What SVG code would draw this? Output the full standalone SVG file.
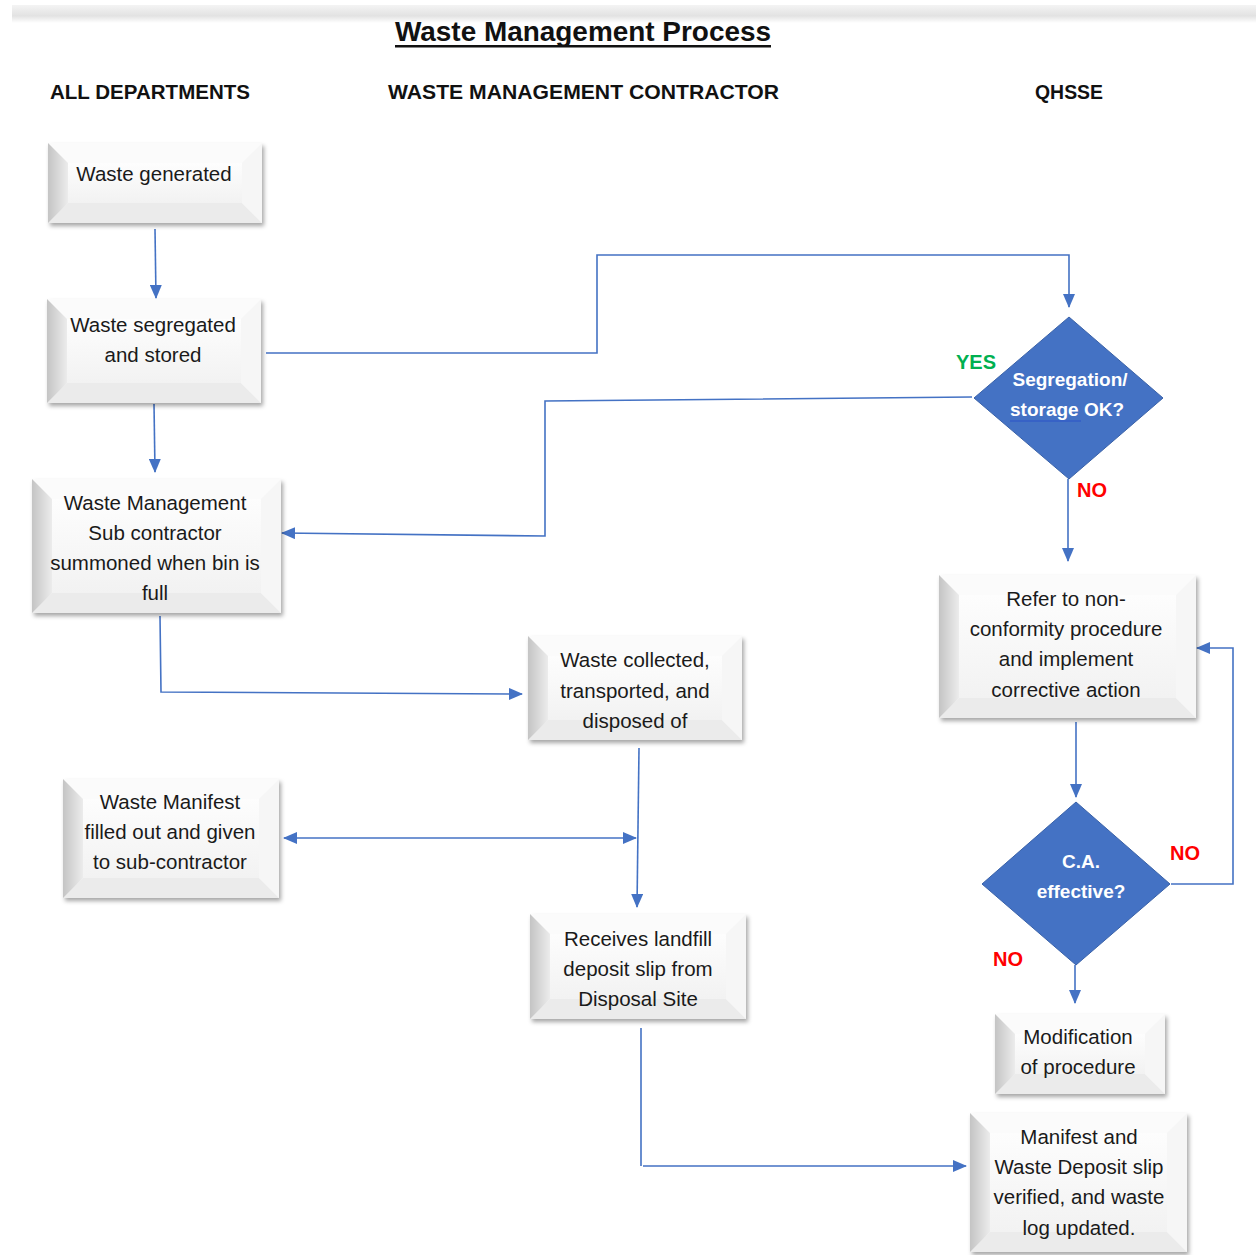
<svg xmlns="http://www.w3.org/2000/svg" width="1256" height="1255" viewBox="0 0 1256 1255">
<defs>
<style>
.t{font-family:"Liberation Sans",Arial,sans-serif;font-size:20.5px;fill:#1a1a1a;text-anchor:middle}
.h{font-family:"Liberation Sans",Arial,sans-serif;font-size:20px;font-weight:bold;fill:#111}
.dt{font-family:"Liberation Sans",Arial,sans-serif;font-size:19px;font-weight:bold;fill:#fff;text-anchor:middle}
.no{font-family:"Liberation Sans",Arial,sans-serif;font-size:20px;font-weight:bold;fill:#ff0000}
.yes{font-family:"Liberation Sans",Arial,sans-serif;font-size:20px;font-weight:bold;fill:#00b050}
.c{fill:none;stroke:#4472c4;stroke-width:1.6}
.face{fill:url(#gFace)}
.bl{fill:url(#gLeft)}
.bt{fill:#fbfbfb}
.bb{fill:#ebebeb}
.br{fill:#f6f6f6}
.dia{fill:#4472c4;stroke:#3a62a8;stroke-width:1}
</style>
<linearGradient id="gFace" x1="0" y1="0" x2="0" y2="1">
<stop offset="0" stop-color="#fdfdfd"/><stop offset="1" stop-color="#f2f2f2"/>
</linearGradient>
<linearGradient id="gLeft" x1="0" y1="0" x2="1" y2="0">
<stop offset="0" stop-color="#c4c4c4"/><stop offset="1" stop-color="#ececec"/>
</linearGradient>
<linearGradient id="gBand" x1="0" y1="0" x2="0" y2="1">
<stop offset="0" stop-color="#f4f4f4"/><stop offset="0.6" stop-color="#e2e2e2"/><stop offset="1" stop-color="#ffffff"/>
</linearGradient>
<filter id="sh" x="-10%" y="-10%" width="125%" height="130%">
<feDropShadow dx="2" dy="3" stdDeviation="2" flood-color="#000" flood-opacity="0.35"/>
</filter>
<marker id="ah" markerUnits="userSpaceOnUse" markerWidth="14" markerHeight="12" refX="13" refY="6" orient="auto-start-reverse">
<path d="M0,0 L14,6 L0,12 Z" fill="#4472c4"/>
</marker>
</defs>
<rect x="0" y="0" width="1256" height="1255" fill="#fff"/>
<rect x="12" y="5" width="1244" height="18" fill="url(#gBand)"/>

<g id="title">
<text x="583" y="41" font-family="'Liberation Sans',Arial,sans-serif" font-size="28" font-weight="bold" fill="#111" text-anchor="middle" textLength="376" lengthAdjust="spacingAndGlyphs">Waste Management Process</text>
<rect x="395" y="45" width="376" height="2.5" fill="#111"/>
</g>
<g id="lanes">
<text class="h" x="50" y="99" textLength="200" lengthAdjust="spacingAndGlyphs">ALL DEPARTMENTS</text>
<text class="h" x="388" y="99" textLength="391" lengthAdjust="spacingAndGlyphs">WASTE MANAGEMENT CONTRACTOR</text>
<text class="h" x="1035" y="99" textLength="68" lengthAdjust="spacingAndGlyphs">QHSSE</text>
</g>

<g id="connectors">
<path class="c" d="M155,229 L156,298" marker-end="url(#ah)"/>
<path class="c" d="M154,404 L155,472" marker-end="url(#ah)"/>
<path class="c" d="M266,353 L597,353 L597,255 L1069,255 L1069,307" marker-end="url(#ah)"/>
<path class="c" d="M972,397 L545,401 L545,536 L282,533" marker-end="url(#ah)"/>
<path class="c" d="M1068,479 L1068,561" marker-end="url(#ah)"/>
<path class="c" d="M160,616 L161,692 L522,694" marker-end="url(#ah)"/>
<path class="c" d="M639,748 L637,907" marker-end="url(#ah)"/>
<path class="c" d="M284,838 L636,838" marker-start="url(#ah)" marker-end="url(#ah)"/>
<path class="c" d="M641,1028 L641,1166 M643,1166 L966,1166" marker-end="url(#ah)"/>
<path class="c" d="M1076,722 L1076,797" marker-end="url(#ah)"/>
<path class="c" d="M1171,884 L1233,884 L1233,648 L1197,648" marker-end="url(#ah)"/>
<path class="c" d="M1075,965 L1075,1003" marker-end="url(#ah)"/>
</g>

<g id="labels">
<text class="yes" x="956" y="369">YES</text>
<text class="no" x="1077" y="497">NO</text>
<text class="no" x="1170" y="860">NO</text>
<text class="no" x="993" y="966">NO</text>
</g>

<g id="n1" filter="url(#sh)">
<rect class="face" x="48" y="143" width="214" height="80"/>
<polygon class="bt" points="48,143 262,143 242,163 68,163"/>
<polygon class="bb" points="48,223 262,223 242,203 68,203"/>
<polygon class="br" points="262,143 262,223 242,203 242,163"/>
<polygon class="bl" points="48,143 68,163 68,203 48,223"/>
<rect class="face" x="68" y="163" width="174" height="40"/>
</g>
<text class="t" x="154" y="181">Waste generated</text>

<g id="n2" filter="url(#sh)">
<rect class="face" x="47" y="299" width="214" height="104"/>
<polygon class="bt" points="47,299 261,299 241,319 67,319"/>
<polygon class="bb" points="47,403 261,403 241,383 67,383"/>
<polygon class="br" points="261,299 261,403 241,383 241,319"/>
<polygon class="bl" points="47,299 67,319 67,383 47,403"/>
<rect class="face" x="67" y="319" width="174" height="64"/>
</g>
<text class="t" x="153" y="332">Waste segregated</text>
<text class="t" x="153" y="362">and stored</text>

<g id="n3" filter="url(#sh)">
<rect class="face" x="32" y="479" width="249" height="134"/>
<polygon class="bt" points="32,479 281,479 261,499 52,499"/>
<polygon class="bb" points="32,613 281,613 261,593 52,593"/>
<polygon class="br" points="281,479 281,613 261,593 261,499"/>
<polygon class="bl" points="32,479 52,499 52,593 32,613"/>
<rect class="face" x="52" y="499" width="209" height="94"/>
</g>
<text class="t" x="155" y="510">Waste Management</text>
<text class="t" x="155" y="540">Sub contractor</text>
<text class="t" x="155" y="570">summoned when bin is</text>
<text class="t" x="155" y="600">full</text>

<g id="n4" filter="url(#sh)">
<rect class="face" x="528" y="636" width="214" height="104"/>
<polygon class="bt" points="528,636 742,636 722,656 548,656"/>
<polygon class="bb" points="528,740 742,740 722,720 548,720"/>
<polygon class="br" points="742,636 742,740 722,720 722,656"/>
<polygon class="bl" points="528,636 548,656 548,720 528,740"/>
<rect class="face" x="548" y="656" width="174" height="64"/>
</g>
<text class="t" x="635" y="667">Waste collected,</text>
<text class="t" x="635" y="698">transported, and</text>
<text class="t" x="635" y="728">disposed of</text>

<g id="n5" filter="url(#sh)">
<rect class="face" x="63" y="779" width="216" height="119"/>
<polygon class="bt" points="63,779 279,779 259,799 83,799"/>
<polygon class="bb" points="63,898 279,898 259,878 83,878"/>
<polygon class="br" points="279,779 279,898 259,878 259,799"/>
<polygon class="bl" points="63,779 83,799 83,878 63,898"/>
<rect class="face" x="83" y="799" width="176" height="79"/>
</g>
<text class="t" x="170" y="809">Waste Manifest</text>
<text class="t" x="170" y="839">filled out and given</text>
<text class="t" x="170" y="869">to sub-contractor</text>

<g id="n6" filter="url(#sh)">
<rect class="face" x="530" y="914" width="216" height="105"/>
<polygon class="bt" points="530,914 746,914 726,934 550,934"/>
<polygon class="bb" points="530,1019 746,1019 726,999 550,999"/>
<polygon class="br" points="746,914 746,1019 726,999 726,934"/>
<polygon class="bl" points="530,914 550,934 550,999 530,1019"/>
<rect class="face" x="550" y="934" width="176" height="65"/>
</g>
<text class="t" x="638" y="946">Receives landfill</text>
<text class="t" x="638" y="976">deposit slip from</text>
<text class="t" x="638" y="1006">Disposal Site</text>

<g id="n7" filter="url(#sh)">
<rect class="face" x="939" y="575" width="257" height="143"/>
<polygon class="bt" points="939,575 1196,575 1176,595 959,595"/>
<polygon class="bb" points="939,718 1196,718 1176,698 959,698"/>
<polygon class="br" points="1196,575 1196,718 1176,698 1176,595"/>
<polygon class="bl" points="939,575 959,595 959,698 939,718"/>
<rect class="face" x="959" y="595" width="217" height="103"/>
</g>
<text class="t" x="1066" y="606">Refer to non-</text>
<text class="t" x="1066" y="636">conformity procedure</text>
<text class="t" x="1066" y="666">and implement</text>
<text class="t" x="1066" y="697">corrective action</text>

<g id="n8" filter="url(#sh)">
<rect class="face" x="995" y="1014" width="170" height="80"/>
<polygon class="bt" points="995,1014 1165,1014 1145,1034 1015,1034"/>
<polygon class="bb" points="995,1094 1165,1094 1145,1074 1015,1074"/>
<polygon class="br" points="1165,1014 1165,1094 1145,1074 1145,1034"/>
<polygon class="bl" points="995,1014 1015,1034 1015,1074 995,1094"/>
<rect class="face" x="1015" y="1034" width="130" height="40"/>
</g>
<text class="t" x="1078" y="1044">Modification</text>
<text class="t" x="1078" y="1074">of procedure</text>

<g id="n9" filter="url(#sh)">
<rect class="face" x="970" y="1113" width="217" height="139"/>
<polygon class="bt" points="970,1113 1187,1113 1167,1133 990,1133"/>
<polygon class="bb" points="970,1252 1187,1252 1167,1232 990,1232"/>
<polygon class="br" points="1187,1113 1187,1252 1167,1232 1167,1133"/>
<polygon class="bl" points="970,1113 990,1133 990,1232 970,1252"/>
<rect class="face" x="990" y="1133" width="177" height="99"/>
</g>
<text class="t" x="1079" y="1144">Manifest and</text>
<text class="t" x="1079" y="1174">Waste Deposit slip</text>
<text class="t" x="1079" y="1204">verified, and waste</text>
<text class="t" x="1079" y="1235">log updated.</text>

<g id="d1">
<polygon class="dia" points="1069,317 1163,398 1069,479 974,398"/>
<text class="dt" x="1070" y="386">Segregation/</text>
<text class="dt" x="1067" y="416">storage OK?</text>
<path d="M1010,421 L1081,421" stroke="#2a52c8" stroke-width="1.2" fill="none"/>
</g>

<g id="d2">
<polygon class="dia" points="1076,802 1170,884 1076,965 982,884"/>
<text class="dt" x="1081" y="868">C.A.</text>
<text class="dt" x="1081" y="898">effective?</text>
</g>
</svg>
